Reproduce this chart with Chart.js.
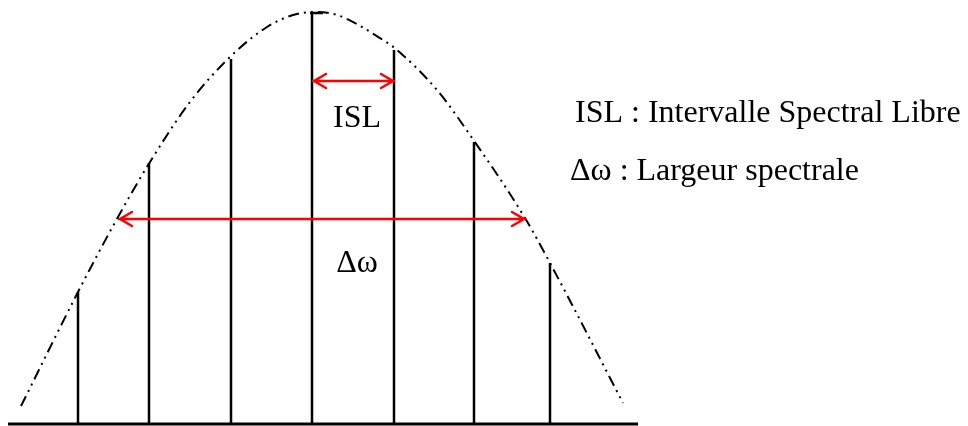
<!DOCTYPE html>
<html>
<head>
<meta charset="utf-8">
<script src="https://cdn.jsdelivr.net/npm/chart.js@4/dist/chart.umd.min.js"></script>
<style>
  body { margin: 0; background: #fff; }
  #chart { display: block; }
</style>
</head>
<body>
<canvas id="chart" width="968" height="426"></canvas>
<script>
// modes of the cavity (frequency position, height)
const modeX = [78, 149, 231, 312, 394, 474, 550];
const modeH = [132, 261, 365, 411, 374, 282, 161];

// envelope of the gain curve
const envX = [21, 78, 118, 150, 190, 230, 267, 293, 315, 337, 383, 397, 437, 470, 525, 550, 623];
const envH = [18, 132, 207, 262, 322, 367, 397, 409, 412, 409, 384, 374, 334, 289, 206, 161, 21];

// little flat tick on top of the central mode
const capX = [310, 323];

// frequency axis (baseline)
const axisX = [8, 638];

// arrows: ISL between two neighbouring modes, width at half height
const islArrow = { from: 313, to: 394, h: 343 };
const dwArrow = { from: 119, to: 525, h: 205 };

const labels = [
    { text: "ISL", x: 357, h: 297 },
    { text: "\u0394\u03c9", x: 357, h: 152 }
];
const legendLines = ["ISL : Intervalle Spectral Libre", "\u0394\u03c9 : Largeur spectrale"];

const datasets = [];

datasets.push({
    data: envX.map((x, i) => ({ x: x, y: envH[i] })),
    borderColor: "#000",
    borderWidth: 2,
    borderDash: [11, 5, 2, 5, 2, 5],
    tension: 0.4,
    cubicInterpolationMode: "monotone"
});

modeX.forEach((x, i) => {
    datasets.push({
        data: [{ x: x, y: 0 }, { x: x, y: modeH[i] }],
        borderColor: "#000",
        borderWidth: 2.5
    });
});

datasets.push({
    data: [{ x: capX[0], y: modeH[3] }, { x: capX[1], y: modeH[3] }],
    borderColor: "#000",
    borderWidth: 2.5
});

datasets.push({
    data: [{ x: axisX[0], y: 0 }, { x: axisX[1], y: 0 }],
    borderColor: "#000",
    borderWidth: 3
});

// red arrows and texts drawn on top
const arrowPlugin = {
    id: "arrows",
    afterDatasetsDraw(chart) {
        const ctx = chart.ctx;
        const xs = chart.scales.x, ys = chart.scales.y;
        ctx.save();
        ctx.strokeStyle = "#ff0000";
        ctx.lineWidth = 2.5;
        ctx.lineCap = "round";
        [islArrow, dwArrow].forEach(a => {
            const x1 = xs.getPixelForValue(a.from);
            const x2 = xs.getPixelForValue(a.to);
            const y = ys.getPixelForValue(a.h);
            ctx.beginPath();
            ctx.moveTo(x1, y);
            ctx.lineTo(x2, y);
            // heads
            ctx.moveTo(x1 + 13, y - 7);
            ctx.lineTo(x1 + 1, y);
            ctx.lineTo(x1 + 13, y + 7);
            ctx.moveTo(x2 - 13, y - 7);
            ctx.lineTo(x2 - 1, y);
            ctx.lineTo(x2 - 13, y + 7);
            ctx.stroke();
        });

        ctx.fillStyle = "#000";
        ctx.font = "32px 'Liberation Serif', 'Times New Roman', serif";
        ctx.textBaseline = "alphabetic";
        ctx.textAlign = "center";
        labels.forEach(l => {
            ctx.fillText(l.text, xs.getPixelForValue(l.x), ys.getPixelForValue(l.h));
        });

        ctx.textAlign = "left";
        ctx.fillText(legendLines[0], 575, 122);
        ctx.fillText(legendLines[1], 570, 180);
        ctx.restore();
    }
};

new Chart(document.getElementById("chart"), {
    type: "scatter",
    data: { datasets: datasets },
    options: {
        responsive: false,
        animation: false,
        showLine: true,
        layout: { padding: 0 },
        elements: { point: { radius: 0, hoverRadius: 0 } },
        plugins: { legend: { display: false }, tooltip: { enabled: false } },
        scales: {
            x: { type: "linear", min: 0, max: 968, display: false },
            y: { type: "linear", min: -2, max: 424, display: false }
        }
    },
    plugins: [arrowPlugin]
});
</script>
</body>
</html>
